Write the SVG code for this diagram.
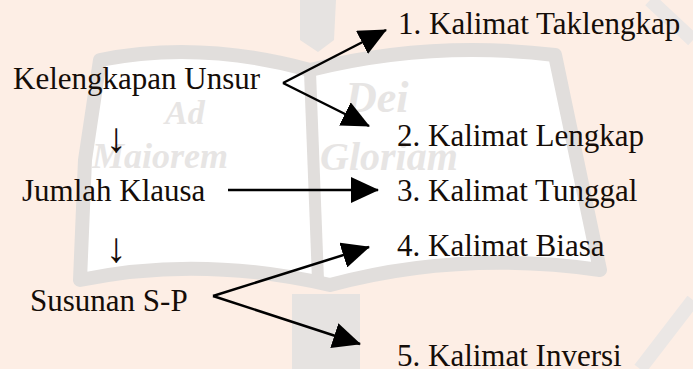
<svg xmlns="http://www.w3.org/2000/svg" width="693" height="369" viewBox="0 0 693 369">
  <style>
    .t { font-family: "Liberation Serif", "Times New Roman", serif; font-size: 31px; fill: #150d08; }
    .dn { font-family: "Liberation Serif", "DejaVu Serif", serif; font-size: 42px; fill: #150d08; text-anchor: middle; }
    .wm { font-family: "Liberation Serif", serif; font-weight: bold; font-style: italic; fill: #e7e5e4; }
    .c { stroke: #000; stroke-width: 2.5; fill: none; marker-end: url(#head); }
  </style>
  <defs>
    <marker id="head" viewBox="0 0 28 26" refX="27" refY="13" markerWidth="28" markerHeight="26" markerUnits="userSpaceOnUse" orient="auto">
      <path d="M0,0 L28,13 L0,26 Z" fill="#000"/>
    </marker>
  </defs>

  <!-- page background and faint watermark emblem -->
  <rect width="693" height="369" fill="#fdeee5"/>
  <g id="watermark">
    <path d="M300,0 L336,0 L334,40 L318,52 L300,40 Z" fill="#e6e3e1"/>
    <path d="M292,294 L360,294 L360,369 L292,369 Z" fill="#e6e3e1"/>
    <path d="M100,60 Q200,40 310,70 Q430,40 555,55 L600,270 Q460,250 330,285 Q200,255 80,280 L85,160 Z" fill="#ffffff" stroke="#e1dedc" stroke-width="14" stroke-linejoin="round"/>
    <path d="M310,72 L318,280" stroke="#e1dedc" stroke-width="12"/>
    <path d="M650,0 L693,40 M640,369 L693,300" stroke="#ebe7e5" stroke-width="14"/>
    <text class="wm" x="165" y="124" font-size="34">Ad</text>
    <text class="wm" x="345" y="112" font-size="44">Dei</text>
    <text class="wm" x="92" y="168" font-size="36">Maiorem</text>
    <text class="wm" x="320" y="170" font-size="40">Gloriam</text>
  </g>

  <g id="connectors">
    <line class="c" x1="283" y1="83" x2="386" y2="30"/>
    <line class="c" x1="283" y1="83" x2="369" y2="126"/>
    <line class="c" x1="228" y1="190" x2="378" y2="190"/>
    <line class="c" x1="213" y1="296" x2="369" y2="247"/>
    <line class="c" x1="213" y1="296" x2="360" y2="344"/>
  </g>

  <g id="kelengkapan"><text class="t" x="13" y="89">Kelengkapan Unsur</text></g>
  <g id="down1"><text class="dn" x="116" y="152">↓</text></g>
  <g id="jumlah"><text class="t" x="22" y="201">Jumlah Klausa</text></g>
  <g id="down2"><text class="dn" x="116" y="262">↓</text></g>
  <g id="susunan"><text class="t" x="30" y="311">Susunan S-P</text></g>

  <g id="k1"><text class="t" x="398" y="34">1. Kalimat Taklengkap</text></g>
  <g id="k2"><text class="t" x="397" y="146">2. Kalimat Lengkap</text></g>
  <g id="k3"><text class="t" x="397" y="201">3. Kalimat Tunggal</text></g>
  <g id="k4"><text class="t" x="397" y="256">4. Kalimat Biasa</text></g>
  <g id="k5"><text class="t" x="397" y="366">5. Kalimat Inversi</text></g>
</svg>
